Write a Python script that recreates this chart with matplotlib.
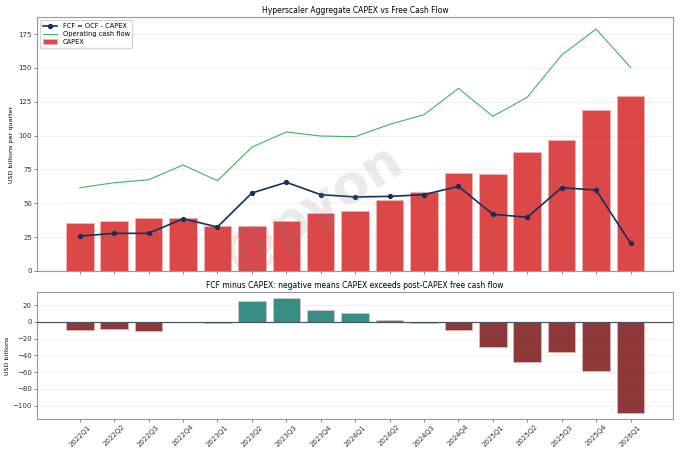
import matplotlib
matplotlib.use("Agg")
import matplotlib.pyplot as plt
import numpy as np

quarters = ["2022Q1", "2022Q2", "2022Q3", "2022Q4", "2023Q1", "2023Q2", "2023Q3", "2023Q4",
            "2024Q1", "2024Q2", "2024Q3", "2024Q4", "2025Q1", "2025Q2", "2025Q3", "2025Q4", "2026Q1"]
capex = [35.2, 36.7, 38.9, 39.0, 33.5, 33.0, 36.7, 42.6, 44.1, 52.6, 58.1, 72.2, 71.6, 87.9, 97.0, 118.7, 129.5]
ocf = [61.5, 65.2, 67.4, 78.3, 66.7, 91.4, 102.7, 99.7, 99.2, 108.3, 115.4, 134.9, 114.3, 128.3, 159.5, 178.7, 150.4]
fcf = [25.8, 27.8, 27.8, 38.6, 32.5, 57.6, 65.5, 56.4, 54.7, 55.1, 56.4, 62.5, 41.9, 39.7, 61.5, 59.8, 20.5]

gap = [f - c for f, c in zip(fcf, capex)]
x = np.arange(len(quarters))

fig = plt.figure(figsize=(6.8, 4.53), dpi=100)
ax1 = fig.add_axes([0.054, 0.4018, 0.936, 0.5607])
ax2 = fig.add_axes([0.054, 0.075, 0.936, 0.2804], sharex=ax1)

spine_c = "#999999"
for ax in (ax1, ax2):
    for s in ax.spines.values():
        s.set_color(spine_c)
        s.set_linewidth(0.8)
    ax.grid(axis="y", color="#eeeeee", linewidth=0.6)
    ax.set_axisbelow(True)
    ax.tick_params(labelsize=5, length=2, width=0.5, color="#555555", pad=1.5, labelcolor="#333333")

ax1.bar(x, capex, width=0.8, color="#d62728", alpha=0.85, edgecolor="#f5b5b5", linewidth=0.6,
        label="CAPEX", zorder=2)
ax1.plot(x, fcf, color="#13315c", linewidth=1.2, marker="o", markersize=2.8,
         label="FCF = OCF - CAPEX", zorder=4)
ax1.plot(x, ocf, color="#41b35c", linewidth=0.8, label="Operating cash flow", zorder=3)
ax1.set_ylim(0, max(ocf) * 1.05)
ax1.set_xlim(-1.25, 17.24)
ax1.set_title("Hyperscaler Aggregate CAPEX vs Free Cash Flow", fontsize=5.5, pad=3)
ax1.set_ylabel("USD billions per quarter", fontsize=4.6, labelpad=3)
ax1.set_yticks([0, 25, 50, 75, 100, 125, 150, 175])
plt.setp(ax1.get_xticklabels(), visible=False)
ax1.legend(loc="upper left", fontsize=4.8, frameon=True, borderpad=0.4,
           handlelength=2.2, labelspacing=0.3)

cols = ["#1a7f74" if g >= 0 else "#7f1d1d" for g in gap]
ax2.bar(x, gap, width=0.8, color=cols, alpha=0.88, edgecolor="#f0c0c0", linewidth=0.5, zorder=2)
ax2.axhline(0, color="#4a5568", linewidth=0.9, zorder=3)
ax2.set_title("FCF minus CAPEX: negative means CAPEX exceeds post-CAPEX free cash flow",
              fontsize=5.5, pad=3)
ax2.set_ylabel("USD billions", fontsize=4.6, labelpad=2)
ax2.set_yticks([-100, -80, -60, -40, -20, 0, 20])
ax2.set_xticks(x)
ax2.set_xticklabels(quarters, rotation=45, ha="center")

fig.text(0.462, 0.54, "@pyon", fontsize=38, fontweight="bold", color="gray", alpha=0.17,
         rotation=32, ha="center", va="center", zorder=10)

fig.savefig("out.png", dpi=100)
